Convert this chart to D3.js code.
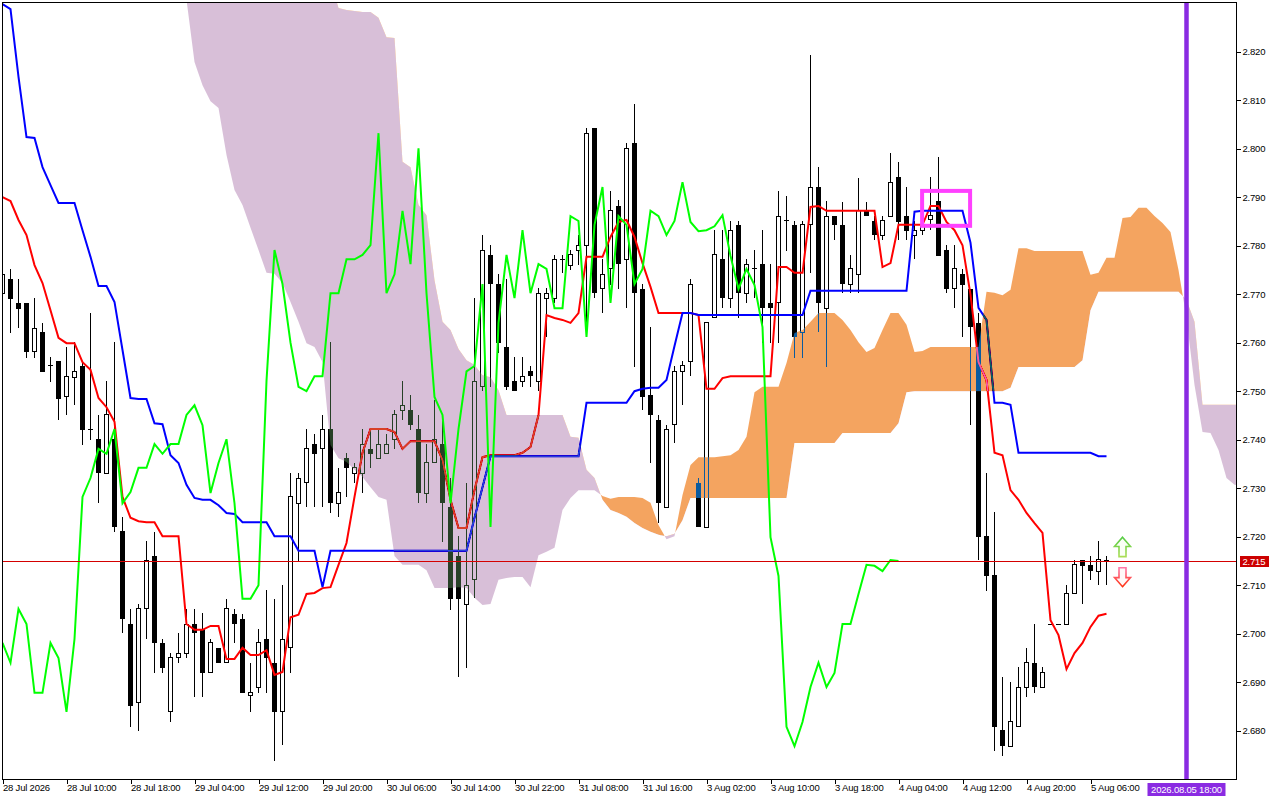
<!DOCTYPE html>
<html><head><meta charset="utf-8">
<script src="https://cdn.jsdelivr.net/npm/d3@7"></script>
<style>
html,body{margin:0;padding:0;background:#fff;}
svg{display:block;}
.ax text{font-family:"Liberation Sans",Arial,sans-serif;font-size:9.5px;fill:#000;letter-spacing:-0.2px;}
.ax line{stroke:#000;}
</style></head><body>
<svg id="c" width="1280" height="800"></svg>
<script>
// ---------- DATA ----------
const opens = [2.7702,2.7731,2.7682,2.7682,2.7581,2.7622,2.7552,2.7562,2.7490,2.7529,
2.7552,2.7422,2.7401,2.7331,2.7401,2.7212,2.7020,2.6859,2.7051,2.7160,
2.6981,2.6839,2.6950,2.6960,2.7020,2.7010,2.6919,2.6971,2.6940,2.7041,
2.7030,2.6872,2.6890,2.6989,2.6940,2.6839,2.6971,2.7269,2.7311,2.7391,
2.7381,2.7422,2.7269,2.7362,2.7331,2.7331,2.7381,2.7362,2.7371,2.7401,
2.7461,2.7461,2.7422,2.7290,2.7352,2.7391,2.7261,2.7160,2.7061,2.7111,
2.7509,2.7781,2.7721,2.7591,2.7521,2.7521,2.7541,2.7521,2.7692,2.7692,
2.7772,2.7760,2.7791,2.7801,2.8043,2.7711,2.7752,2.7882,2.7772,2.8012,
2.7711,2.7492,2.7440,2.7261,2.7432,2.7541,2.7562,2.7311,2.7220,2.7651,
2.7772,2.7692,2.7843,2.7702,2.7752,2.7762,2.7682,2.7682,2.7851,2.7843,
2.7622,2.7843,2.7921,2.7671,2.7861,2.7843,2.7721,2.7741,2.7872,2.7851,
2.7822,2.7861,2.7941,2.7861,2.7822,2.7832,2.7853,2.7892,2.7791,2.7711,
2.7741,2.7711,2.7641,2.7201,2.7121,2.6801,2.6768,2.6808,2.6890,2.6940,
2.6890,2.7020,2.7020,2.7020,2.7082,2.7152,2.7142,2.7129,2.7152];
const highs = [2.7754,2.7752,2.7731,2.7682,2.7692,2.7640,2.7570,2.7562,2.7591,2.7601,
2.7562,2.7661,2.7451,2.7521,2.7601,2.7241,2.7051,2.7061,2.7191,2.7210,
2.6989,2.6960,2.7001,2.7051,2.7051,2.7043,2.6989,2.6971,2.7072,2.7051,
2.7041,2.6940,2.7010,2.7090,2.7072,2.7100,2.7331,2.7331,2.7422,2.7412,
2.7451,2.7601,2.7342,2.7373,2.7352,2.7422,2.7422,2.7422,2.7412,2.7461,
2.7521,2.7492,2.7451,2.7391,2.7482,2.7440,2.7321,2.7201,2.7311,2.7692,
2.7822,2.7801,2.7741,2.7731,2.7570,2.7570,2.7552,2.7712,2.7712,2.7781,
2.7781,2.7791,2.7822,2.8043,2.8043,2.7772,2.7913,2.7894,2.8012,2.8092,
2.7721,2.7632,2.7451,2.7430,2.7552,2.7562,2.7731,2.7321,2.7641,2.7832,
2.7832,2.7851,2.7851,2.7772,2.7791,2.7832,2.7762,2.7913,2.7903,2.7851,
2.7851,2.8193,2.7962,2.7892,2.7861,2.7890,2.7781,2.7940,2.7890,2.7861,
2.7861,2.7991,2.7972,2.7921,2.7851,2.7894,2.7941,2.7982,2.7801,2.7801,
2.7752,2.7711,2.7661,2.7331,2.7251,2.6910,2.6900,2.6931,2.6971,2.7020,
2.6931,2.7020,2.7020,2.7100,2.7152,2.7152,2.7160,2.7191,2.7160];
const lows = [2.7688,2.7620,2.7630,2.7568,2.7568,2.7540,2.7519,2.7440,2.7451,2.7471,
2.7389,2.7399,2.7269,2.7331,2.7210,2.7001,2.6808,2.6799,2.6989,2.6919,
2.6919,2.6818,2.6940,2.6950,2.6869,2.6869,2.6919,2.6940,2.6940,2.6981,
2.6878,2.6839,2.6878,2.6878,2.6738,2.6771,2.6919,2.7150,2.7261,2.7261,
2.7261,2.7249,2.7241,2.7282,2.7311,2.7290,2.7342,2.7362,2.7371,2.7381,
2.7440,2.7420,2.7269,2.7269,2.7352,2.7189,2.7049,2.6910,2.6929,2.7074,
2.7500,2.7509,2.7579,2.7502,2.7500,2.7509,2.7509,2.7500,2.7612,2.7682,
2.7743,2.7750,2.7760,2.7612,2.7692,2.7661,2.7719,2.7711,2.7671,2.7550,
2.7461,2.7352,2.7228,2.7261,2.7393,2.7471,2.7531,2.7220,2.7220,2.7651,
2.7671,2.7671,2.7651,2.7682,2.7692,2.7600,2.7600,2.7600,2.7789,2.7568,
2.7568,2.7743,2.7622,2.7550,2.7811,2.7702,2.7702,2.7702,2.7861,2.7811,
2.7811,2.7861,2.7811,2.7811,2.7772,2.7822,2.7832,2.7779,2.7702,2.7671,
2.7612,2.7430,2.7152,2.7088,2.6758,2.6748,2.6768,2.6808,2.6869,2.6878,
2.6890,2.7020,2.7020,2.7020,2.7082,2.7061,2.7111,2.7100,2.7100];
const closes = [2.7741,2.7690,2.7669,2.7581,2.7630,2.7540,2.7552,2.7484,2.7531,2.7541,
2.7420,2.7422,2.7331,2.7451,2.7220,2.7030,2.6851,2.7051,2.7150,2.6981,
2.6929,2.6950,2.6960,2.7020,2.7001,2.6919,2.6981,2.6940,2.7051,2.7020,
2.6878,2.6878,2.6981,2.6950,2.6839,2.6989,2.7282,2.7321,2.7381,2.7371,
2.7422,2.7269,2.7292,2.7342,2.7342,2.7391,2.7371,2.7391,2.7391,2.7451,
2.7471,2.7430,2.7290,2.7352,2.7401,2.7269,2.7072,2.7072,2.7100,2.7521,
2.7791,2.7721,2.7600,2.7509,2.7500,2.7531,2.7531,2.7702,2.7702,2.7772,
2.7772,2.7781,2.7801,2.8032,2.7702,2.7741,2.7872,2.7762,2.8001,2.7702,
2.7488,2.7451,2.7269,2.7422,2.7541,2.7552,2.7721,2.7220,2.7641,2.7781,
2.7692,2.7832,2.7702,2.7762,2.7752,2.7671,2.7671,2.7861,2.7851,2.7612,
2.7843,2.7921,2.7682,2.7861,2.7843,2.7721,2.7752,2.7872,2.7861,2.7822,
2.7851,2.7931,2.7849,2.7830,2.7832,2.7840,2.7863,2.7779,2.7711,2.7752,
2.7719,2.7632,2.7199,2.7119,2.6808,2.6768,2.6818,2.6890,2.6940,2.6890,
2.6919,2.7020,2.7020,2.7082,2.7142,2.7140,2.7129,2.7152,2.7150];
// Tenkan-sen (red)
const tenkan = [2.7900,2.7892,2.7853,2.7822,2.7760,2.7723,2.7667,2.7610,2.7599,2.7599,
2.7560,2.7544,2.7486,2.7467,2.7437,2.7282,2.7239,2.7232,2.7230,2.7230,
2.7201,2.7201,2.7201,2.7020,2.7008,2.7008,2.7016,2.7016,2.6948,2.6948,
2.6971,2.6956,2.6956,2.6966,2.6915,2.6921,2.7034,2.7039,2.7082,2.7084,
2.7094,2.7096,2.7142,2.7187,2.7282,2.7373,2.7422,2.7422,2.7422,2.7416,
2.7381,2.7397,2.7397,2.7397,2.7397,2.7358,2.7276,2.7218,2.7218,2.7296,
2.7364,2.7368,2.7368,2.7368,2.7368,2.7373,2.7385,2.7451,2.7657,2.7651,
2.7647,2.7641,2.7661,2.7777,2.7777,2.7777,2.7818,2.7849,2.7853,2.7818,
2.7764,2.7715,2.7661,2.7661,2.7661,2.7661,2.7661,2.7657,2.7505,2.7505,
2.7527,2.7531,2.7531,2.7531,2.7531,2.7531,2.7531,2.7756,2.7756,2.7744,
2.7744,2.7880,2.7882,2.7872,2.7872,2.7872,2.7872,2.7872,2.7872,2.7872,
2.7756,2.7764,2.7843,2.7843,2.7843,2.7843,2.7882,2.7882,2.7849,2.7832,
2.7801,2.7699,2.7560,2.7523,2.7373,2.7368,2.7296,2.7276,2.7249,2.7228,
2.7208,2.7028,2.6997,2.6927,2.6960,2.6981,2.7014,2.7037,2.7041];
// Kijun-sen (blue)
const kijun = [2.8298,2.8288,2.8148,2.8024,2.8022,2.7962,2.7925,2.7888,2.7888,2.7888,
2.7832,2.7777,2.7717,2.7717,2.7684,2.7585,2.7486,2.7484,2.7484,2.7434,
2.7432,2.7368,2.7352,2.7307,2.7280,2.7276,2.7276,2.7265,2.7249,2.7247,
2.7230,2.7230,2.7230,2.7230,2.7201,2.7201,2.7201,2.7171,2.7171,2.7171,
2.7096,2.7171,2.7171,2.7171,2.7171,2.7171,2.7171,2.7171,2.7171,2.7171,
2.7171,2.7171,2.7171,2.7171,2.7171,2.7171,2.7171,2.7171,2.7171,2.7239,
2.7302,2.7366,2.7366,2.7366,2.7366,2.7366,2.7366,2.7366,2.7366,2.7366,
2.7366,2.7366,2.7366,2.7476,2.7476,2.7476,2.7476,2.7476,2.7476,2.7500,
2.7505,2.7507,2.7507,2.7523,2.7593,2.7661,2.7661,2.7657,2.7657,2.7657,
2.7657,2.7657,2.7657,2.7657,2.7657,2.7657,2.7657,2.7657,2.7657,2.7657,
2.7657,2.7707,2.7707,2.7707,2.7707,2.7707,2.7707,2.7707,2.7707,2.7707,
2.7707,2.7707,2.7707,2.7707,2.7870,2.7872,2.7872,2.7872,2.7872,2.7872,
2.7872,2.7806,2.7672,2.7647,2.7476,2.7476,2.7472,2.7373,2.7373,2.7373,
2.7373,2.7373,2.7373,2.7373,2.7373,2.7373,2.7373,2.7366,2.7366];
// Chikou span (green), plotted from bar 0
const chikou = [2.6981,2.6940,2.7051,2.7020,2.6878,2.6878,2.6981,2.6950,2.6839,2.6989,
2.7282,2.7321,2.7381,2.7371,2.7422,2.7269,2.7292,2.7342,2.7342,2.7391,
2.7371,2.7391,2.7391,2.7451,2.7471,2.7430,2.7290,2.7352,2.7401,2.7269,
2.7072,2.7072,2.7100,2.7521,2.7791,2.7721,2.7600,2.7509,2.7500,2.7531,
2.7531,2.7702,2.7702,2.7772,2.7772,2.7781,2.7801,2.8032,2.7702,2.7741,
2.7872,2.7762,2.8001,2.7702,2.7488,2.7451,2.7269,2.7422,2.7541,2.7552,
2.7721,2.7220,2.7641,2.7781,2.7692,2.7832,2.7702,2.7762,2.7752,2.7671,
2.7671,2.7861,2.7851,2.7612,2.7843,2.7921,2.7682,2.7861,2.7843,2.7721,
2.7752,2.7872,2.7861,2.7822,2.7851,2.7931,2.7849,2.7830,2.7832,2.7840,
2.7863,2.7779,2.7711,2.7752,2.7719,2.7632,2.7199,2.7119,2.6808,2.6768,
2.6818,2.6890,2.6940,2.6890,2.6919,2.7020,2.7020,2.7082,2.7142,2.7140,
2.7129,2.7152,2.7150];
// Senkou spans (cloud), first value at bar cloudStart
const cloudStart = 23;
const spanA = [2.8307,2.8179,2.8131,2.8098,2.8084,2.7987,2.7915,
2.7884,2.7837,2.7791,2.7744,2.7742,2.7723,2.7684,2.7643,2.7599,2.7591,
2.7560,2.7389,2.7362,2.7354,2.7338,2.7323,2.7302,2.7282,2.7276,2.7160,
2.7142,2.7142,2.7142,2.7131,2.7094,2.7094,2.7094,2.7096,2.7094,2.7074,
2.7059,2.7061,2.7111,2.7115,2.7117,2.7117,2.7096,2.7162,2.7169,2.7177,
2.7255,2.7280,2.7296,2.7296,2.7296,2.7284,2.7278,2.7282,2.7282,2.7282,
2.7280,2.7270,2.7224,2.7195,2.7201,2.7286,2.7348,2.7364,2.7364,2.7364,
2.7366,2.7368,2.7379,2.7406,2.7498,2.7509,2.7509,2.7509,2.7558,2.7620,
2.7626,2.7643,2.7661,2.7661,2.7661,2.7647,2.7626,2.7601,2.7581,2.7589,
2.7626,2.7661,2.7661,2.7637,2.7581,2.7583,2.7591,2.7591,2.7591,2.7591,
2.7591,2.7591,2.7591,2.7705,2.7703,2.7698,2.7709,2.7795,2.7795,2.7789,
2.7789,2.7789,2.7789,2.7789,2.7789,2.7789,2.7740,2.7744,2.7775,2.7775,
2.7857,2.7859,2.7878,2.7878,2.7861,2.7847,2.7828,2.7750,2.7651,2.7513,
2.7416,2.7414,2.7379,2.7321,2.7307,2.7305];
const spanB = [2.8348,2.8348,2.8348,2.8348,2.8348,2.8348,2.8348,
2.8348,2.8348,2.8348,2.8348,2.8348,2.8348,2.8348,2.8348,2.8348,2.8348,
2.8348,2.8348,2.8290,2.8286,2.8284,2.8282,2.8282,2.8270,2.8230,2.8228,
2.7973,2.7962,2.7884,2.7863,2.7729,2.7643,2.7626,2.7587,2.7564,2.7554,
2.7533,2.7529,2.7502,2.7451,2.7451,2.7451,2.7451,2.7451,2.7451,2.7451,
2.7451,2.7406,2.7404,2.7338,2.7321,2.7276,2.7255,2.7249,2.7241,2.7228,
2.7218,2.7210,2.7204,2.7201,2.7206,2.7234,2.7280,2.7280,2.7280,2.7280,
2.7280,2.7280,2.7280,2.7280,2.7280,2.7280,2.7280,2.7280,2.7280,2.7393,
2.7393,2.7393,2.7393,2.7393,2.7393,2.7414,2.7414,2.7414,2.7414,2.7414,
2.7414,2.7414,2.7434,2.7498,2.7500,2.7500,2.7500,2.7500,2.7500,2.7500,
2.7500,2.7500,2.7500,2.7500,2.7500,2.7500,2.7507,2.7550,2.7550,2.7550,
2.7550,2.7550,2.7550,2.7550,2.7550,2.7564,2.7667,2.7705,2.7705,2.7705,
2.7705,2.7705,2.7705,2.7705,2.7705,2.7705,2.7705,2.7705,2.7688,2.7643,
2.7472,2.7472,2.7472,2.7472,2.7472,2.7472];
// Axis labels
const priceTicks = [2.680,2.690,2.700,2.710,2.720,2.730,2.740,2.750,2.760,2.770,2.780,2.790,2.800,2.810,2.820];
const labelBars = [0,8,16,24,32,40,48,56,64,72,80,88,96,104,112,120,128,136];
const timeLabels = ["28 Jul 2026","28 Jul 10:00","28 Jul 18:00","29 Jul 04:00","29 Jul 12:00","29 Jul 20:00",
"30 Jul 06:00","30 Jul 14:00","30 Jul 22:00","31 Jul 08:00","31 Jul 16:00","3 Aug 02:00","3 Aug 10:00",
"3 Aug 18:00","4 Aug 04:00","4 Aug 12:00","4 Aug 20:00","5 Aug 06:00"];
const currentPrice = 2.715;
const markerBar = 148, markerLabel = "2026.08.05 18:00";
const boxBars = [114.95, 120.95], boxPrices = [2.7913, 2.7841];
const arrowBar = 140, upArrow = [2.7199, 2.7159], downArrow = [2.7136, 2.7097];

// ---------- CHART ----------
const plot = {l:2.5, t:2.5, r:1236.5, b:779.5};
const x = d3.scaleLinear().domain([0,154]).range([2.5, 2.5+8*154]);
const y = d3.scaleLinear().domain([2.680,2.820]).range([730.7,51.7]);
const svg = d3.select("#c");
svg.append("rect").attr("width",1280).attr("height",800).attr("fill","#fff");
const defs = svg.append("defs");
defs.append("clipPath").attr("id","plotClip").append("rect")
  .attr("x",plot.l).attr("y",plot.t).attr("width",plot.r-plot.l).attr("height",plot.b-plot.t);

const g = svg.append("g").attr("clip-path","url(#plotClip)");
g.append("rect").attr("x",0).attr("y",0).attr("width",1280).attr("height",800).attr("fill","#fff");

const bars = d3.range(opens.length);
const cg = g.append("g").attr("shape-rendering","crispEdges");
cg.selectAll("line.wick").data(bars).join("line").attr("class","wick")
  .attr("x1",i=>x(i)).attr("x2",i=>x(i)).attr("y1",i=>y(highs[i])).attr("y2",i=>y(lows[i]))
  .attr("stroke","#000").attr("stroke-width",1);
cg.selectAll("rect.down").data(bars.filter(i=>closes[i]<opens[i])).join("rect").attr("class","down")
  .attr("x",i=>x(i)-2.5).attr("width",5).attr("y",i=>y(opens[i]))
  .attr("height",i=>Math.max(1,y(closes[i])-y(opens[i]))).attr("fill","#000");
cg.selectAll("rect.up").data(bars.filter(i=>closes[i]>opens[i])).join("rect").attr("class","up")
  .attr("x",i=>x(i)-2).attr("width",4).attr("y",i=>y(closes[i]))
  .attr("height",i=>Math.max(0,y(opens[i])-y(closes[i]))).attr("fill","#fff").attr("stroke","#000");
cg.selectAll("line.doji").data(bars.filter(i=>closes[i]===opens[i])).join("line").attr("class","doji")
  .attr("x1",i=>x(i)-2.5).attr("x2",i=>x(i)+2.5).attr("y1",i=>y(opens[i])).attr("y2",i=>y(opens[i]))
  .attr("stroke","#000");

const line = d3.line().x((d,i)=>x(i)).y(d=>y(d));
g.append("path").attr("d",line(tenkan)).attr("fill","none").attr("stroke","#FF0000").attr("stroke-width",2);
g.append("path").attr("d",line(kijun)).attr("fill","none").attr("stroke","#0000FF").attr("stroke-width",2);

// cloud
const cb = d3.range(cloudStart, cloudStart+spanA.length);
const A = i=>y(spanA[i-cloudStart]), B = i=>y(spanB[i-cloudStart]);
defs.append("clipPath").attr("id","aboveB").append("path")
  .attr("d", d3.area().x(i=>x(i)).y0(-500).y1(B)(cb));
defs.append("clipPath").attr("id","belowB").append("path")
  .attr("d", d3.area().x(i=>x(i)).y0(B).y1(2000)(cb));
const band = d3.area().x(i=>x(i)).y0(A).y1(B)(cb);
// inverted colours combined by difference reproduce SandyBrown / Thistle over white
g.append("path").attr("d",band).attr("clip-path","url(#aboveB)")
  .attr("fill","#0B5B9F").style("mix-blend-mode","difference");
g.append("path").attr("d",band).attr("clip-path","url(#belowB)")
  .attr("fill","#274027").style("mix-blend-mode","difference");

g.append("path").attr("d",line(chikou)).attr("fill","none").attr("stroke","#00FF00").attr("stroke-width",2);

// objects (drawn above the indicator layer)
const og = svg.append("g").attr("clip-path","url(#plotClip)");
og.append("rect").attr("x",plot.l).attr("width",plot.r-plot.l).attr("y",Math.round(y(currentPrice))).attr("height",1)
  .attr("fill","#D40000");
og.append("line").attr("x1",x(markerBar)).attr("x2",x(markerBar)).attr("y1",plot.t).attr("y2",plot.b)
  .attr("stroke","#8A2BE2").attr("stroke-width",4.5);
og.append("rect").attr("x",x(boxBars[0])).attr("y",y(boxPrices[0]))
  .attr("width",x(boxBars[1])-x(boxBars[0])).attr("height",y(boxPrices[1])-y(boxPrices[0]))
  .attr("fill","none").attr("stroke","#FF40FF").attr("stroke-width",4);

function arrowPath(cx, yTip, yEnd) {
  const dir = yEnd > yTip ? 1 : -1;
  const h = Math.abs(yEnd-yTip), mid = yTip + dir*h*0.48;
  return `M${cx},${yTip} L${cx+8},${mid} L${cx+3.5},${mid} L${cx+3.5},${yEnd} L${cx-3.5},${yEnd} L${cx-3.5},${mid} L${cx-8},${mid} Z`;
}
const gr1 = defs.append("linearGradient").attr("id","gUp").attr("x1",0).attr("y1",0).attr("x2",0).attr("y2",1);
gr1.append("stop").attr("offset","0").attr("stop-color","#55CC44");
gr1.append("stop").attr("offset","1").attr("stop-color","#AADD55");
const gr2 = defs.append("linearGradient").attr("id","gDn").attr("x1",0).attr("y1",0).attr("x2",0).attr("y2",1);
gr2.append("stop").attr("offset","0").attr("stop-color","#FF77AA");
gr2.append("stop").attr("offset","1").attr("stop-color","#FF3311");
const ax = x(arrowBar);
og.append("path").attr("d",arrowPath(ax, y(upArrow[0]), y(upArrow[1])))
  .attr("fill","#FAFFF6").attr("stroke","url(#gUp)").attr("stroke-width",1.6).attr("stroke-linejoin","miter");
og.append("path").attr("d",arrowPath(ax, y(downArrow[1]), y(downArrow[0])))
  .attr("fill","#FFF8F8").attr("stroke","url(#gDn)").attr("stroke-width",1.6).attr("stroke-linejoin","miter");

// border
svg.append("rect").attr("x",plot.l).attr("y",plot.t).attr("width",plot.r-plot.l).attr("height",plot.b-plot.t)
  .attr("fill","none").attr("stroke","#000").attr("shape-rendering","crispEdges");

// axes
const yAx = svg.append("g").attr("class","ax").attr("transform",`translate(${plot.r},0)`)
  .call(d3.axisRight(y).tickValues(priceTicks).tickFormat(d3.format(".3f")).tickSize(4).tickPadding(2));
yAx.select(".domain").remove();
yAx.selectAll("line").attr("shape-rendering","crispEdges");

const xAx = svg.append("g").attr("class","ax").attr("transform",`translate(0,${plot.b})`)
  .call(d3.axisBottom(x).tickValues(labelBars).tickFormat((d,i)=>timeLabels[i]).tickSize(4));
xAx.select(".domain").remove();
xAx.selectAll("line").attr("shape-rendering","crispEdges");
xAx.selectAll("text").attr("text-anchor","start").attr("x",0).attr("y",5).attr("dy","0.71em");

// current price label
const cpY = Math.round(y(currentPrice))+0.5;
svg.append("rect").attr("x",1240).attr("y",cpY-5.5).attr("width",29).attr("height",11).attr("fill","#CC0000");
svg.append("text").attr("x",1242.5).attr("y",cpY).attr("dy","0.35em").text(d3.format(".3f")(currentPrice))
  .attr("fill","#fff").style("font-family","Liberation Sans, Arial, sans-serif").style("font-size","9.5px").style("letter-spacing","-0.2px");

// marker date label
svg.append("rect").attr("x",x(markerBar)-39).attr("y",783).attr("width",78).attr("height",13).attr("fill","#8A2BE2");
svg.append("text").attr("x",x(markerBar)).attr("y",789.5).attr("dy","0.35em").attr("text-anchor","middle").text(markerLabel)
  .attr("fill","#fff").style("font-family","Liberation Sans, Arial, sans-serif").style("font-size","9.5px").style("letter-spacing","-0.2px");
</script>
</body></html>
